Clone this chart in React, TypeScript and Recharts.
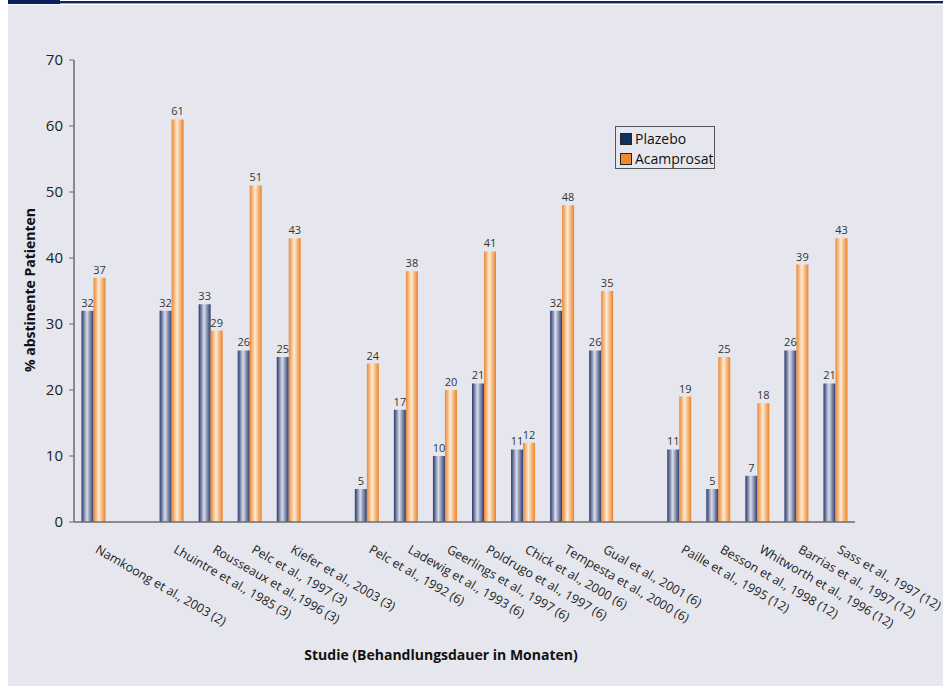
import { BarChart, Bar, XAxis, YAxis, LabelList, Legend, Label } from "recharts";

const studies = [
  "Namkoong et al., 2003 (2)",
  "Lhuintre et al., 1985 (3)",
  "Rousseaux et al.,1996 (3)",
  "Pelc et al., 1997 (3)",
  "Kiefer et al., 2003 (3)",
  "Pelc et al., 1992 (6)",
  "Ladewig et al., 1993 (6)",
  "Geerlings et al., 1997 (6)",
  "Poldrugo et al., 1997 (6)",
  "Chick et al., 2000 (6)",
  "Tempesta et al., 2000 (6)",
  "Gual et al., 2001 (6)",
  "Paille et al., 1995 (12)",
  "Besson et al., 1998 (12)",
  "Whitworth et al., 1996 (12)",
  "Barrias et al., 1997 (12)",
  "Sass et al., 1997 (12)",
];
const plazebo = [32, 32, 33, 26, 25, 5, 17, 10, 21, 11, 32, 26, 11, 5, 7, 26, 21];
const acamprosat = [37, 61, 29, 51, 43, 24, 38, 20, 41, 12, 48, 35, 19, 25, 18, 39, 43];
// an empty slot follows these studies (grouping by treatment duration)
const gapAfter = [0, 4, 11];
const yTicks = [0, 10, 20, 30, 40, 50, 60, 70];

const data: { name: string; plazebo: number | null; acamprosat: number | null }[] = [];
studies.forEach((s, i) => {
  data.push({ name: s, plazebo: plazebo[i], acamprosat: acamprosat[i] });
  if (gapAfter.includes(i)) data.push({ name: "", plazebo: null, acamprosat: null });
});

const FONT = "'Open Sans', 'Noto Sans', sans-serif";

const StudyTick = (props: any) => {
  const { x, y, payload } = props;
  if (!payload.value) return null;
  return (
    <g transform={`translate(${x + 1},${y + 22})`}>
      <text
        transform="rotate(30)"
        textAnchor="start"
        fontSize={12.5}
        fontFamily={FONT}
        fill="#222"
      >
        {payload.value}
      </text>
    </g>
  );
};

const LegendBox = () => (
  <div
    style={{
      border: "1px solid #555",
      width: 100,
      height: 43,
      padding: "2px 0 0 4px",
      boxSizing: "border-box",
      fontFamily: FONT,
      fontSize: 14,
      color: "#111",
      lineHeight: "20px",
    }}
  >
    {[
      { label: "Plazebo", color: "#14305e" },
      { label: "Acamprosat", color: "#f08a2c" },
    ].map((it) => (
      <div key={it.label} style={{ display: "flex", alignItems: "center" }}>
        <span
          style={{
            width: 10,
            height: 10,
            background: it.color,
            border: "1px solid #222",
            marginRight: 3,
            display: "inline-block",
          }}
        />
        {it.label}
      </div>
    ))}
  </div>
);

const App = () => {
  return (
    <div
      style={{
        position: "absolute",
        left: 0,
        top: 0,
        width: 943,
        height: 686,
        background: "#fff",
        overflow: "hidden",
      }}
    >
      <div style={{ position: "absolute", left: 8, top: 5, right: 0, bottom: 0, background: "#e6e7ee" }} />
      <div style={{ position: "absolute", left: 60, top: 1, right: 0, height: 2, background: "#0f2362" }} />
      <div style={{ position: "absolute", left: 60, top: 3, right: 0, height: 1, background: "#9aa3c4" }} />
      <div style={{ position: "absolute", left: 8, top: 0, width: 52, height: 4, background: "#0a1f5e" }} />
      <div style={{ position: "absolute", left: 0, top: 0 }}>
        <BarChart
          width={943}
          height={686}
          data={data}
          margin={{ top: 17, right: 88, bottom: 0, left: 0 }}
          barCategoryGap={7.5}
          barGap={0}
        >
          <defs>
            <linearGradient id="gradBlue" x1="0" y1="0" x2="1" y2="0">
              <stop offset="0%" stopColor="#26376a" />
              <stop offset="45%" stopColor="#d9dcea" />
              <stop offset="100%" stopColor="#2a3b6d" />
            </linearGradient>
            <linearGradient id="gradOrange" x1="0" y1="0" x2="1" y2="0">
              <stop offset="0%" stopColor="#ee8630" />
              <stop offset="45%" stopColor="#fdebd4" />
              <stop offset="100%" stopColor="#ec8227" />
            </linearGradient>
          </defs>
          <XAxis
            dataKey="name"
            height={164}
            tickLine={false}
            interval={0}
            tick={<StudyTick />}
            axisLine={{ stroke: "#6d6d6d", strokeWidth: 1.5 }}
          >
            <Label
              content={() => (
                <text
                  x={441}
                  y={660}
                  textAnchor="middle"
                  fontFamily={FONT}
                  fontWeight="bold"
                  fontSize={14}
                  fill="#111"
                >
                  Studie (Behandlungsdauer in Monaten)
                </text>
              )}
            />
          </XAxis>
          <YAxis
            width={74}
            domain={[0, 70]}
            ticks={yTicks}
            interval={0}
            tickSize={5}
            tickMargin={6}
            axisLine={{ stroke: "#6d6d6d", strokeWidth: 1.5 }}
            tickLine={{ stroke: "#6d6d6d" }}
            tick={{ fontSize: 15, fontFamily: FONT, fill: "#222" }}
          >
            <Label
              content={() => (
                <text
                  x={0}
                  y={0}
                  transform="translate(35,290) rotate(-90)"
                  textAnchor="middle"
                  fontFamily={FONT}
                  fontWeight="bold"
                  fontSize={14}
                  fill="#111"
                >
                  % abstinente Patienten
                </text>
              )}
            />
          </YAxis>
          <Legend
            verticalAlign="top"
            align="left"
            content={<LegendBox />}
            wrapperStyle={{ left: 615, top: 126, width: 100 }}
          />
          <Bar dataKey="plazebo" name="Plazebo" fill="url(#gradBlue)" isAnimationActive={false}>
            <LabelList dataKey="plazebo" position="top" offset={4} fontSize={11} fontFamily={FONT} fill="#333" />
          </Bar>
          <Bar dataKey="acamprosat" name="Acamprosat" fill="url(#gradOrange)" isAnimationActive={false}>
            <LabelList dataKey="acamprosat" position="top" offset={4} fontSize={11} fontFamily={FONT} fill="#333" />
          </Bar>
        </BarChart>
      </div>
    </div>
  );
};

export default App;
